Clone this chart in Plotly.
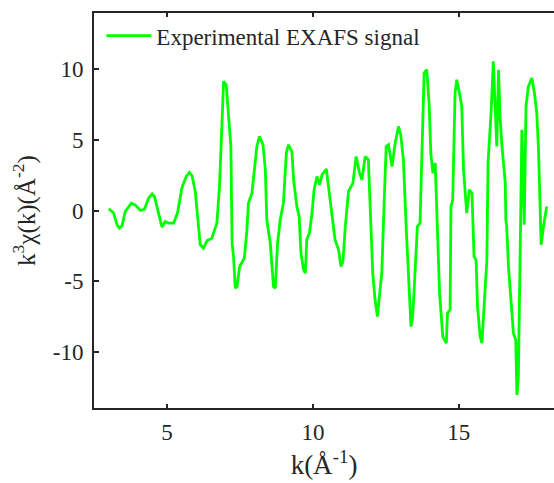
import plotly.graph_objects as go

# Photoelectron wavenumber k (1/Angstrom)
k = [
    3.01, 3.17, 3.29, 3.37, 3.46, 3.57, 3.78, 3.91, 4.09, 4.23,
    4.37, 4.49, 4.57, 4.66, 4.75, 4.83, 4.94, 5.05, 5.23, 5.36,
    5.51, 5.66, 5.77, 5.86, 5.97, 6.05, 6.14, 6.25, 6.37, 6.54,
    6.71, 6.80, 6.88, 6.94, 7.03, 7.11, 7.19, 7.23, 7.28, 7.34,
    7.40, 7.49, 7.65, 7.74, 7.79, 7.91, 7.99, 8.08, 8.17, 8.29,
    8.37, 8.42, 8.54, 8.65, 8.71, 8.79, 8.88, 8.99, 9.09, 9.16,
    9.28, 9.34, 9.45, 9.53, 9.59, 9.68, 9.74, 9.79, 9.88, 9.97,
    10.04, 10.14, 10.23, 10.31, 10.46, 10.57, 10.65, 10.76, 10.88, 10.96,
    11.03, 11.11, 11.22, 11.37, 11.48, 11.60, 11.68, 11.79, 11.90, 11.96,
    12.05, 12.13, 12.21, 12.30, 12.36, 12.44, 12.51, 12.59, 12.71, 12.82,
    12.93, 13.01, 13.10, 13.20, 13.27, 13.36, 13.42, 13.50, 13.58, 13.67,
    13.73, 13.81, 13.90, 13.98, 14.04, 14.11, 14.19, 14.25, 14.34, 14.45,
    14.57, 14.61, 14.70, 14.73, 14.79, 14.87, 14.93, 15.02, 15.10, 15.16,
    15.27, 15.36, 15.45, 15.52, 15.59, 15.64, 15.73, 15.79, 15.87, 15.96,
    16.00, 16.11, 16.18, 16.24, 16.30, 16.36, 16.41, 16.47, 16.59, 16.61,
    16.64, 16.70, 16.76, 16.82, 16.87, 16.95, 16.99, 17.04, 17.10, 17.16,
    17.24, 17.30, 17.38, 17.50, 17.59, 17.67, 17.73, 17.78, 17.82, 17.90,
    18.01,
]

# k^3-weighted EXAFS signal chi(k)
chi_k3 = [
    0.12, -0.18, -1.01, -1.25, -1.09, -0.07, 0.52, 0.40, 0.00, 0.10,
    0.88, 1.18, 0.99, 0.17, -0.54, -1.18, -0.78, -0.89, -0.89, -0.18,
    1.59, 2.41, 2.70, 2.46, 1.35, -0.66, -2.43, -2.67, -2.15, -1.96,
    -0.89, 1.70, 5.72, 9.15, 8.91, 6.43, 4.54, -2.31, -3.26, -5.50,
    -5.39, -3.97, -3.38, -1.37, 0.52, 1.23, 2.89, 4.54, 5.25, 4.66,
    2.89, -0.66, -2.31, -5.39, -5.50, -2.31, -0.66, 0.52, 4.07, 4.66,
    4.18, 2.18, 0.28, -0.43, -3.02, -4.21, -4.44, -2.08, -1.60, -0.18,
    1.47, 2.41, 1.82, 2.53, 2.94, 0.99, -0.43, -2.08, -2.79, -3.97,
    -3.62, -1.13, 1.35, 1.94, 3.83, 2.65, 2.18, 3.83, 3.60, 0.05,
    -4.44, -6.33, -7.52, -5.62, -4.44, 0.52, 4.54, 4.66, 3.12, 4.78,
    5.96, 5.37, 3.60, -1.37, -4.44, -8.23, -7.52, -4.68, -1.13, -0.89,
    4.54, 9.74, 9.98, 7.62, 4.07, 2.65, 3.36, 0.05, -5.86, -8.94,
    -9.40, -7.28, -7.04, 0.28, 0.76, 8.33, 9.27, 8.33, 7.38, 2.89,
    -0.18, 1.47, 1.23, -3.26, -3.50, -6.81, -8.94, -9.40, -6.57, -3.50,
    3.38, 7.14, 10.57, 7.85, 4.54, 9.98, 6.67, 4.78, 1.94, -0.66,
    -1.13, -3.97, -5.62, -7.04, -8.70, -9.17, -13.07, -11.77, -2.79, 5.72,
    -1.01, 7.35, 8.79, 9.39, 8.33, 6.91, 4.30, -0.87, -2.43, -1.13,
    0.28,
]

x_ticks = [5, 10, 15]
y_ticks = [-10, -5, 0, 5, 10]
y_tick_labels = ["-10", "-5", "0", "5", "10"]

serif = "Liberation Serif"
ink = "#262626"

fig = go.Figure()
fig.add_trace(go.Scatter(
    x=k, y=chi_k3, mode="lines",
    name="Experimental EXAFS signal",
    line=dict(color="#00ff00", width=2.8),
))

fig.update_layout(
    width=554, height=483,
    margin=dict(l=94, r=0, t=13, b=75),
    paper_bgcolor="white", plot_bgcolor="white",
    font=dict(family=serif, color=ink, size=22),
    showlegend=True,
    legend=dict(
        x=0.016, y=0.997, xanchor="left", yanchor="top",
        bgcolor="rgba(0,0,0,0)", borderwidth=0,
        font=dict(family=serif, size=23, color=ink),
        itemwidth=45,
    ),
    xaxis=dict(
        range=[2.5, 18.26], tickvals=x_ticks, ticks="inside", ticklen=4,
        tickwidth=1.5, tickcolor=ink, showline=True, linecolor=ink,
        linewidth=2, mirror="ticks", showgrid=False, zeroline=False,
        tickfont=dict(family=serif, size=23, color=ink),
        ticklabelstandoff=2,
        title=dict(text="k(Å<sup>-1</sup>)", font=dict(family=serif, size=27, color=ink),
                   standoff=12),
    ),
    yaxis=dict(
        range=[-14, 14], tickvals=y_ticks, ticktext=y_tick_labels,
        ticks="inside", ticklen=5,
        tickwidth=1.5, tickcolor=ink, showline=True, linecolor=ink,
        linewidth=2, mirror=False, showgrid=False, zeroline=False,
        tickfont=dict(family=serif, size=23, color=ink),
        ticklabelstandoff=4,
        title=dict(text="k<sup>3</sup>χ(k)(Å<sup>-2</sup>)",
                   font=dict(family=serif, size=25, color=ink), standoff=10),
    ),
)

fig.write_html("out.html")
